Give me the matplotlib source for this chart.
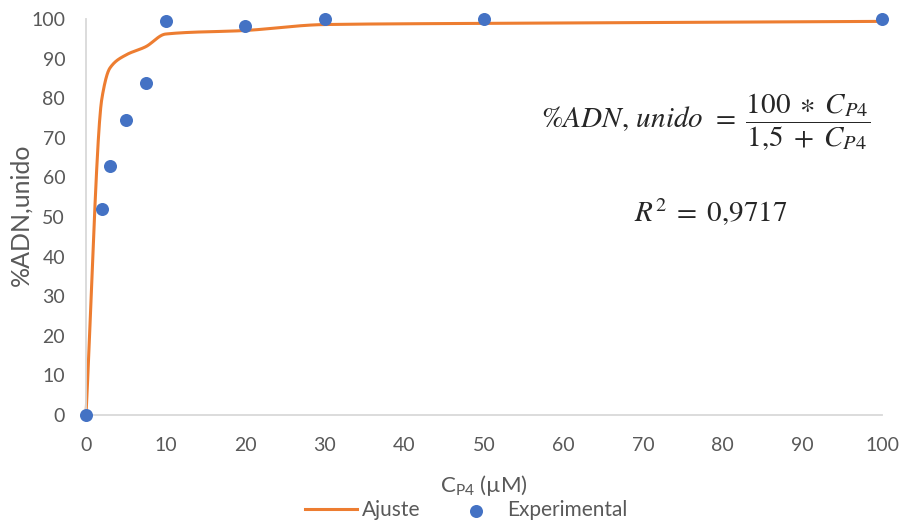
import numpy as np
import matplotlib
matplotlib.use("Agg")
import matplotlib.pyplot as plt

plt.rcParams['font.family'] = ['Lato', 'DejaVu Sans']
plt.rcParams['mathtext.fontset'] = 'custom'
plt.rcParams['mathtext.rm'] = 'Lato'
plt.rcParams['mathtext.it'] = 'Lato:italic'

# experimental points
c_exp = [0, 2, 3, 5, 7.5, 10, 20, 30, 50, 100]
adn_exp = [0, 52, 62.8, 74.5, 83.8, 99.5, 98.2, 100, 100, 100]

# fitted curve
c_fit = [0, 2, 3, 5, 7.5, 10, 20, 30, 50, 100]
adn_fit = [0, 80, 87.6, 90.9, 93, 96.2, 97.1, 98.6, 98.9, 99.4]

x_ticks = list(range(0, 101, 10))
y_ticks = list(range(0, 101, 10))

ORANGE = '#ED7D31'
BLUE = '#4472C4'
GRAY = '#595959'


def monotone(xs, ys, n=40):
    # monotone cubic hermite (Fritsch-Carlson) so the smoothed line never overshoots
    x = np.asarray(xs, float)
    y = np.asarray(ys, float)
    h = np.diff(x)
    d = np.diff(y) / h
    m = np.zeros_like(y)
    m[0], m[-1] = d[0], d[-1]
    for i in range(1, len(x) - 1):
        if d[i - 1] * d[i] > 0:
            w1 = 2 * h[i] + h[i - 1]
            w2 = h[i] + 2 * h[i - 1]
            m[i] = (w1 + w2) / (w1 / d[i - 1] + w2 / d[i])
    px, py = [], []
    for i in range(len(x) - 1):
        t = np.linspace(0, 1, n)
        h00 = 2 * t ** 3 - 3 * t ** 2 + 1
        h10 = t ** 3 - 2 * t ** 2 + t
        h01 = -2 * t ** 3 + 3 * t ** 2
        h11 = t ** 3 - t ** 2
        px.append(x[i] + t * h[i])
        py.append(h00 * y[i] + h10 * h[i] * m[i] + h01 * y[i + 1] + h11 * h[i] * m[i + 1])
    return np.concatenate(px), np.concatenate(py)


fig = plt.figure(figsize=(9.02, 5.22), dpi=100)
ax = fig.add_axes([86 / 902, 107 / 522, 796 / 902, 396 / 522])

xs, ys = monotone(c_fit, adn_fit)
ax.plot(xs, ys, color=ORANGE, lw=2.2, label='Ajuste', clip_on=False, zorder=2)
ax.scatter(c_exp, adn_exp, s=88, color=BLUE, label='Experimental', clip_on=False,
           zorder=3, linewidths=0)

ax.set_xlim(0, 100)
ax.set_ylim(0, 100)
ax.set_xticks(x_ticks)
ax.set_yticks(y_ticks)
ax.tick_params(length=0, labelsize=14, colors=GRAY)
ax.tick_params(axis='y', pad=15)
ax.tick_params(axis='x', pad=16)
for s in ['top', 'right']:
    ax.spines[s].set_visible(False)
for s in ['left', 'bottom']:
    ax.spines[s].set_color('#D9D9D9')
    ax.spines[s].set_linewidth(1.3)

ax.set_ylabel('%ADN,unido', fontsize=18, color=GRAY)
ax.yaxis.set_label_coords(-0.0817, 0.505)
ax.yaxis.label.set_va('center')
ax.set_xlabel(r'C$_{\mathrm{P4}}$ (µM)', fontsize=16, color=GRAY)
ax.xaxis.set_label_coords(0.5, -0.177)
ax.xaxis.label.set_va('center')

ax.text(0.779, 0.74,
        r'$\%ADN,\, unido\;\,=\;\dfrac{100\;\ast\; C_{P4}}{1{,}5\; +\; C_{P4}}$',
        transform=ax.transAxes, ha='center', va='center', fontsize=21,
        math_fontfamily='stix', color='#262626')
ax.text(0.785, 0.513, r'$R^2\;=\;0{,}9717$',
        transform=ax.transAxes, ha='center', va='center', fontsize=21,
        math_fontfamily='stix', color='#262626')

fig.legend(loc='center', bbox_to_anchor=(0.517, 1 - 510 / 522), ncol=2, frameon=False,
           fontsize=15, handlelength=2.5, handletextpad=0.25, columnspacing=1.4,
           labelcolor=GRAY, borderpad=0.2)

fig.savefig('out.png', dpi=100)
